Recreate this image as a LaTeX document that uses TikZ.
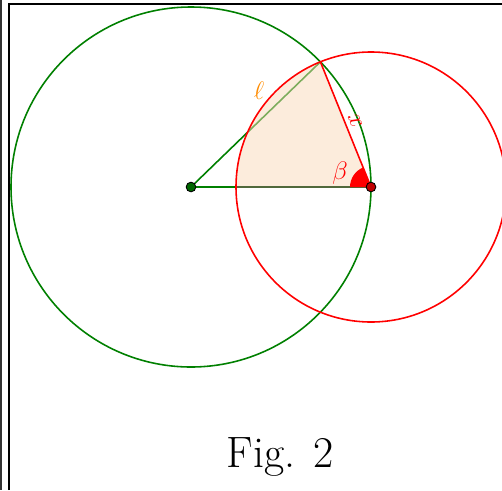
\documentclass[tikz,border=0pt]{standalone}
\usetikzlibrary{calc}
\definecolor{ggreen}{RGB}{0,128,0}
\definecolor{gred}{RGB}{255,0,0}
\definecolor{gorange}{RGB}{255,140,0}
\definecolor{peach}{RGB}{250,218,186}
\definecolor{olive}{RGB}{80,105,60}
\begin{document}
\begin{tikzpicture}[x=0.02cm,y=-0.02cm,
  gline/.style={draw=ggreen,line width=0.9pt},
  rline/.style={draw=gred,line width=0.9pt},
  pt/.style={circle,draw=black,line width=0.5pt,inner sep=0pt,minimum size=5.5pt},
  lbl/.style={font=\fontsize{14}{16}\selectfont,inner sep=0pt}]
\clip (0,0) rectangle (502,490);
\fill[white] (0,0) rectangle (502,490);
% frame
\draw[black!80,line width=1.2pt] (1,0) -- (1,490);
\draw[black,line width=0.9pt] (9,490) -- (9,4) -- (502,4);
% points
\coordinate (A) at (191,187);
\coordinate (B) at (371,187);
\coordinate (C) at (320.4,61.85);
\coordinate (D) at (236,187);
% circles
\draw[gline] (A) circle[radius=180];
% green segments
\draw[gline] (A) -- (C);
\draw[gline] (A) -- (B);
% sector
\fill[peach,fill opacity=0.5] (B) -- (D) arc[start angle=180,end angle=247.97,radius=135] -- cycle;
\draw[olive,line width=0.9pt] (D) -- (B);
% red circle and segment
\draw[rline] (B) circle[radius=135];
\draw[rline] (C) -- (B);
% angle mark
\fill[gred] (B) -- ++(180:21) arc[start angle=180,end angle=247.97,radius=21] -- cycle;
% labels
\node[lbl,text=gorange] (l) at (259,91) {$\ell$};
\node[lbl,text=gred] (beta) at (340,173) {$\beta$};
\node[lbl,text=gred,rotate=-68] (x) at (355,121) {$x$};
\node[inner sep=0pt,anchor=base,font=\fontsize{25}{30}\selectfont] (fig) at (280,467) {Fig. 2};
% dots
\node[pt,fill=ggreen!80!black] (Adot) at (A) {};
\node[pt,fill=gred!75!black] (Bdot) at (B) {};
\end{tikzpicture}
\end{document}
